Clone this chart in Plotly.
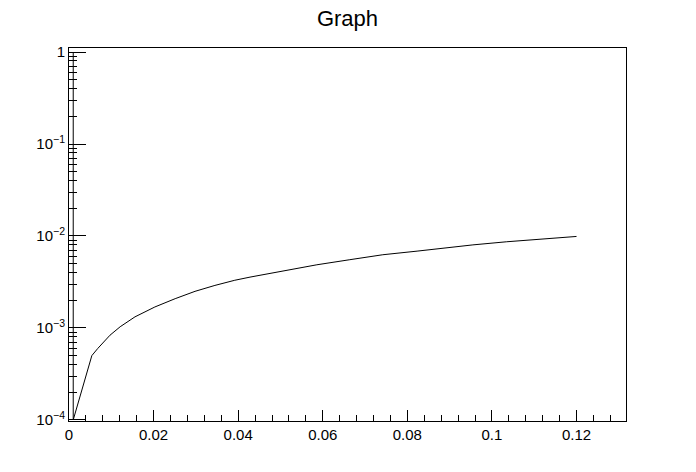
import plotly.graph_objects as go

# Data
x_vals = [0.001, 0.001, 0.0054, 0.0068, 0.0097, 0.0121, 0.0156, 0.0203, 0.0251,
          0.0298, 0.0345, 0.0392, 0.0428, 0.0506, 0.0586, 0.0664, 0.0742, 0.0823,
          0.0901, 0.0955, 0.1035, 0.1113, 0.12]
y_vals = [1.0, 1.0e-4, 5.0e-4, 5.98e-4, 8.34e-4, 1.03e-3, 1.32e-3, 1.69e-3, 2.08e-3,
          2.50e-3, 2.90e-3, 3.30e-3, 3.57e-3, 4.15e-3, 4.86e-3, 5.52e-3, 6.25e-3, 6.84e-3,
          7.57e-3, 8.0e-3, 8.65e-3, 9.28e-3, 9.88e-3]

y_major = [1e-4, 1e-3, 1e-2, 1e-1, 1]
y_major_text = ["10<sup>−4</sup>", "10<sup>−3</sup>", "10<sup>−2</sup>", "10<sup>−1</sup>", "1"]
y_minor = [m * 10.0 ** e for e in range(-4, 0) for m in range(2, 10)]

title_text = "Graph"

FONT = "Liberation Sans, Arial, Helvetica, sans-serif"

fig = go.Figure()
fig.add_trace(go.Scatter(x=x_vals, y=y_vals, mode="lines",
                         line=dict(color="black", width=1), showlegend=False,
                         hoverinfo="skip"))

fig.update_layout(
    width=696, height=472,
    margin=dict(l=61, r=78, t=40, b=59),
    paper_bgcolor="white", plot_bgcolor="white",
    title=dict(text=title_text, x=0.5, xref="paper", xanchor="center",
               y=0.979, yanchor="middle",
               font=dict(family=FONT, size=22, color="black")),
    font=dict(family=FONT, color="black"),
)

fig.update_xaxes(
    range=[0, 0.1317], showgrid=False, zeroline=False,
    showline=True, linecolor="black", linewidth=1, mirror=True,
    ticks="inside", ticklen=11, tickwidth=1, tickcolor="black",
    tick0=0, dtick=0.02, tickfont=dict(family=FONT, size=15, color="black"),
    minor=dict(ticks="inside", ticklen=6, tickcolor="black", tickwidth=1, dtick=0.004, tick0=0,
               showgrid=False),
)

fig.update_yaxes(
    type="log", range=[-4.012, 0.044], showgrid=False, zeroline=False,
    showline=True, linecolor="black", linewidth=1, mirror=True,
    ticks="inside", ticklen=17, tickwidth=1, tickcolor="black",
    tickmode="array", tickvals=y_major, ticktext=y_major_text,
    tickfont=dict(family=FONT, size=15, color="black"),
    minor=dict(ticks="inside", ticklen=8, tickcolor="black", tickwidth=1,
               tickmode="array", tickvals=y_minor, showgrid=False),
)

fig.write_html("out.html")
